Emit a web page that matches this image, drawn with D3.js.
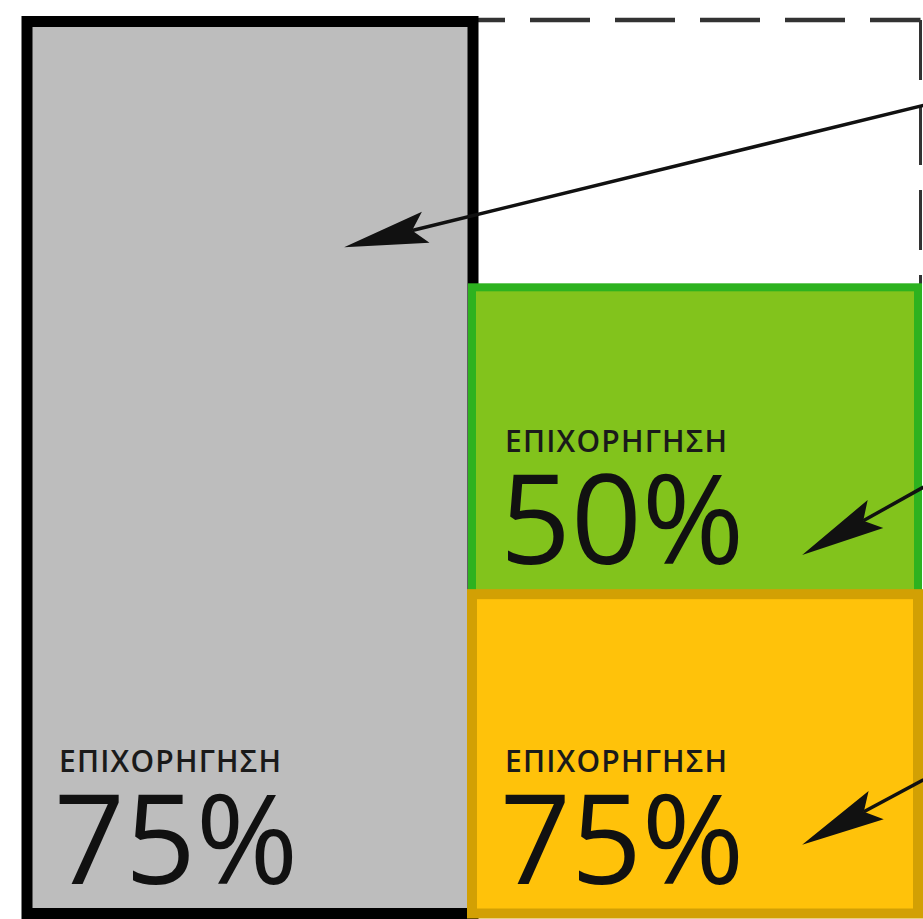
<!DOCTYPE html>
<html>
<head>
<meta charset="utf-8">
<script src="https://cdn.jsdelivr.net/npm/d3@7"></script>
<style>
  html, body { margin: 0; padding: 0; background: #ffffff; }
  svg { display: block; }
</style>
</head>
<body>
<svg id="chart" width="923" height="919"></svg>
<script>
// ---- data ----
const columnNames = ["total", "split"];
const totalShare = [100];
const stackNames = ["yellow", "green", "open"];
const stackShares = [35.8, 34.4, 29.8];
const labelTexts = ["ΕΠΙΧΟΡΗΓΗΣΗ", "ΕΠΙΧΟΡΗΓΗΣΗ", "ΕΠΙΧΟΡΗΓΗΣΗ"];
const grantPercents = [75, 50, 75];
const labelColumn = [0, 1, 1];
const labelSegment = ["total", "green", "yellow"];
// annotation arrows, in data units (x: columns, y: share)
const arrowFromX = [2.01, 2.01, 2.01];
const arrowFromY = [90.6, 47.8, 15.0];
const arrowToX = [0.711, 1.738, 1.738];
const arrowToY = [74.7, 40.2, 7.7];

// ---- scales ----
const W = 923, H = 919;
const x = d3.scaleLinear().domain([0, 2]).range([27, 919]);
const y = d3.scaleLinear().domain([0, 100]).range([913.5, 21.5]);
const colW = x(1) - x(0);

const svg = d3.select("#chart");

// stacked segments for right column
let acc = 0;
const segs = stackNames.map((n, i) => {
  const s = { name: n, y0: acc, y1: acc + stackShares[i] };
  acc += stackShares[i];
  return s;
});
const segBy = {};
segs.forEach(s => segBy[s.name] = s);
segBy.total = { name: "total", y0: 0, y1: totalShare[0] };

const style = {
  open: { fill: "none", stroke: "#333333" },
  green: { fill: "#82c31c", stroke: "#2db21f" },
  yellow: { fill: "#ffc20a", stroke: "#d2a004" }
};

// dashed outline of the open segment (top + right)
const open = segBy.open;
svg.append("path")
  .attr("d", `M${x(1)},${y(open.y1) - 1.5} H${x(2) + 1.5}`)
  .attr("fill", "none")
  .attr("stroke", style.open.stroke)
  .attr("stroke-width", 4.5)
  .attr("stroke-dasharray", "60,25")
  .attr("stroke-dashoffset", 28);
svg.append("path")
  .attr("d", `M${x(2) + 1.5},${y(open.y1) - 1.5} V${y(open.y0)}`)
  .attr("fill", "none")
  .attr("stroke", style.open.stroke)
  .attr("stroke-width", 3)
  .attr("stroke-dasharray", "60,25");

// total column (grey with black frame)
svg.append("rect")
  .attr("x", x(0))
  .attr("y", y(totalShare[0]))
  .attr("width", colW)
  .attr("height", y(0) - y(totalShare[0]))
  .attr("fill", "#bdbdbd")
  .attr("stroke", "#000000")
  .attr("stroke-width", 11);

// green and yellow segments
["green", "yellow"].forEach(n => {
  const s = segBy[n];
  svg.append("rect")
    .attr("x", x(1) - 1)
    .attr("y", y(s.y1))
    .attr("width", colW)
    .attr("height", y(s.y0) - y(s.y1))
    .attr("fill", style[n].fill)
    .attr("stroke", style[n].stroke)
    .attr("stroke-width", n === "green" ? 8 : 10);
});

// labels
labelTexts.forEach((t, i) => {
  const s = segBy[labelSegment[i]];
  const lx = x(labelColumn[i]) + 32;
  const base = y(s.y0) - 30;
  svg.append("text")
    .attr("x", lx)
    .attr("y", base - 112)
    .attr("font-family", "'Open Sans', sans-serif")
    .attr("font-size", 30)
    .attr("font-weight", 600)
    .attr("letter-spacing", 1.2)
    .attr("fill", "#1a1a1a")
    .text(t);
  svg.append("text")
    .attr("x", lx - 5)
    .attr("y", base)
    .attr("font-family", "'Open Sans', sans-serif")
    .attr("font-size", 124)
    .attr("fill", "#111111")
    .text(grantPercents[i] + "%");
});

// arrows
arrowFromX.forEach((fx, i) => {
  const x1 = x(fx), y1 = y(arrowFromY[i]);
  const x2 = x(arrowToX[i]), y2 = y(arrowToY[i]);
  const dx = x2 - x1, dy = y2 - y1;
  const len = Math.hypot(dx, dy);
  const ux = dx / len, uy = dy / len;
  const px = -uy, py = ux;
  const L = 84, hw = 16, notch = 70;
  const bx = x2 - ux * L, by = y2 - uy * L;
  const nx = x2 - ux * notch, ny = y2 - uy * notch;
  svg.append("line")
    .attr("x1", x1).attr("y1", y1)
    .attr("x2", nx).attr("y2", ny)
    .attr("stroke", "#111111")
    .attr("stroke-width", 3.5);
  svg.append("path")
    .attr("d", `M${x2},${y2} L${bx + px * hw},${by + py * hw} L${nx},${ny} L${bx - px * hw},${by - py * hw} Z`)
    .attr("fill", "#111111");
});
</script>
</body>
</html>
